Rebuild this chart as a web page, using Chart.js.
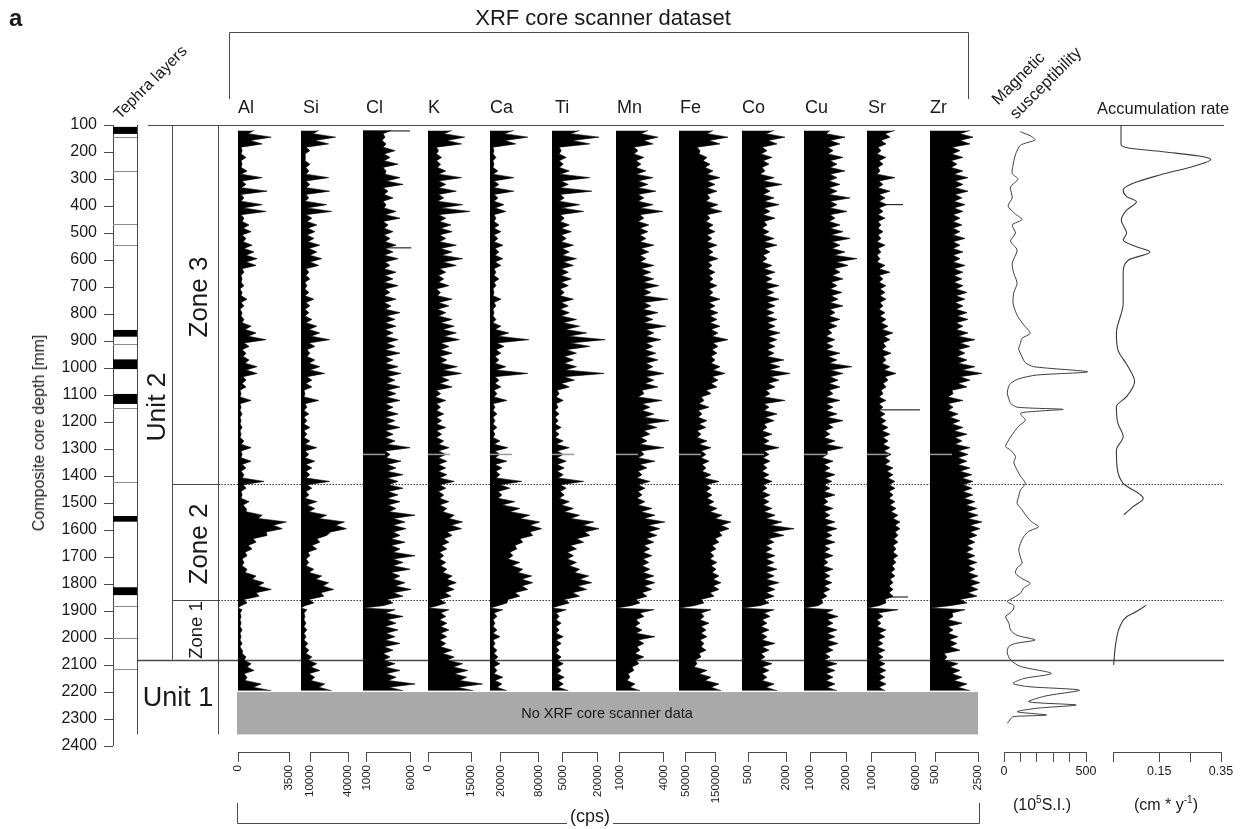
<!DOCTYPE html>
<html>
<head>
<meta charset="utf-8">
<title>XRF core scanner dataset</title>
<script src="https://cdn.jsdelivr.net/npm/chart.js@4.4.1/dist/chart.umd.min.js"></script>
<style>
  html, body { margin: 0; padding: 0; background: #fff; }
  #fig { position: relative; width: 1243px; height: 829px; overflow: hidden;
         font-family: "Liberation Sans", Arial, Helvetica, sans-serif; color: #1a1a1a; }
  #fig canvas { position: absolute; }
  .t { position: absolute; white-space: nowrap; line-height: 1; }
  .c { transform: translate(-50%, -50%); }
  .v { transform: translate(-50%, -50%) rotate(-90deg); }
  .d { transform-origin: 0 100%; transform: rotate(-45deg); }
</style>
</head>
<body>
<div id="fig">
  <canvas id="frame" width="1243" height="829" style="left:0;top:0"></canvas>

  <div class="t" style="left:9px;top:6px;font-size:24px;font-weight:bold">a</div>
  <div class="t c" style="left:603px;top:18px;font-size:22px">XRF core scanner dataset</div>
  <div class="t d" style="left:122px;top:106px;font-size:16px">Tephra layers</div>
  <div class="t d" style="left:1000px;top:91px;font-size:16.5px">Magnetic</div>
  <div class="t d" style="left:1018px;top:105px;font-size:16.5px">susceptibility</div>
  <div class="t" style="left:1097px;top:100px;font-size:16.5px">Accumulation rate</div>

  <div class="t v" style="left:39px;top:433px;font-size:16px">Composite core depth [mm]</div>
  <div class="t v" style="left:156px;top:407px;font-size:26.5px">Unit 2</div>
  <div class="t v" style="left:198px;top:297px;font-size:26px">Zone 3</div>
  <div class="t v" style="left:198px;top:544px;font-size:26px">Zone 2</div>
  <div class="t v" style="left:196px;top:630px;font-size:18.5px">Zone 1</div>
  <div class="t c" style="left:178px;top:697px;font-size:27px">Unit 1</div>

  <div class="t c" style="left:607px;top:713px;font-size:14.5px">No XRF core scanner data</div>
  <div class="t c" style="left:590px;top:816px;font-size:18px;background:#fff;padding:0 3px">(cps)</div>
  <div class="t c" style="left:1042px;top:804px;font-size:16px">(10<sup style="font-size:10px">5</sup>S.I.)</div>
  <div class="t c" style="left:1166px;top:804px;font-size:16px">(cm * y<sup style="font-size:10px">-1</sup>)</div>
</div>

<script>
// ---------------------------------------------------------------- data --
// composite depth of the XRF samples [mm]: local peaks ...
const DEPTH = [
  120,145,170,195,220,245,270,295,320,345,
  370,395,420,445,470,495,520,545,570,595,
  620,645,670,695,720,745,770,795,820,845,
  870,895,920,945,970,995,1020,1045,1070,1095,
  1120,1145,1170,1195,1220,1245,1270,1295,1320,1345,
  1370,1395,1420,1445,1470,1495,1520,1545,1570,1595,
  1620,1645,1670,1695,1720,1745,1770,1795,1820,1845,1870,
  1889,
  1895,1920,1945,1970,1995,2020,2045,2070,2095,2120,2145,2170,2195
];
// ... and the troughs between them
const DEPTH_MID = [
  132,157,182,207,232,257,282,307,332,357,
  382,407,432,457,482,507,532,557,582,607,
  632,657,682,707,732,757,782,807,832,857,
  882,907,932,957,982,1007,1032,1057,1082,1107,
  1132,1157,1182,1207,1232,1257,1282,1307,1332,1357,
  1382,1407,1432,1457,1482,1507,1532,1557,1582,1607,
  1632,1657,1682,1707,1732,1757,1782,1807,1832,1857,
  1880,
  1907,1932,1957,1982,2007,2032,2057,2082,2107,2132,2157,2182
];

const ELEMENTS = ['Al','Si','Cl','K','Ca','Ti','Mn','Fe','Co','Cu','Sr','Zr'];

// counts per second
const AL = [1100,2280,1660,280,550,280,620,1660,550,2000,
  410,1660,1930,410,760,900,550,970,1100,1310,
  1240,410,280,410,280,620,410,280,410,900,
  1240,1930,760,550,760,1310,1310,550,550,210,
  900,210,280,210,280,210,410,900,280,900,
  550,410,1790,550,280,760,550,1660,3310,3040,
  2000,1240,970,620,410,620,1240,1790,2280,1450,620,
  0,
  280,210,210,280,210,280,280,550,900,1100,620,1590,2280];
const AL_LOW = [690,830,210,210,210,210,210,280,210,210,
  210,350,210,280,350,280,350,410,550,550,
  280,210,210,140,210,210,140,210,280,480,
  690,410,280,350,480,550,350,280,140,140,
  140,140,140,140,140,140,210,210,210,280,
  210,280,350,210,210,350,550,1380,2420,1930,
  1040,690,480,280,280,480,970,1380,1240,410,
  210,
  140,140,140,140,140,140,280,410,620,410,480,1040];

const SI = [16790,30110,24620,9750,5830,9750,8960,24620,9750,25410,
  8960,23060,26970,11310,15230,13660,12880,17580,15230,19140,
  16790,8960,9750,7400,8960,12880,9750,8960,11310,15230,
  17580,25410,13660,9750,13660,17580,21490,11310,11310,5830,
  16790,7400,8960,7400,9750,7400,9750,15230,8960,13660,
  11310,9750,25410,11310,8960,15230,13660,23060,37150,38720,
  23060,17580,15230,9750,8960,12880,19140,24620,28540,20710,12880,
  2700,
  7400,5830,6620,7400,6620,8180,8960,11310,15230,17580,13660,21490,26970];
const SI_LOW = [12100,13660,6620,5830,5830,6620,6620,6620,6620,6620,
  5830,7400,6620,7400,8180,7400,8180,8960,9750,9750,
  6620,6620,5830,5830,5830,6620,5830,5830,6620,8960,
  10530,8960,7400,7400,8960,9750,7400,6620,5050,5050,
  5830,5050,5050,5050,5050,5050,5830,5830,5830,6620,
  6620,6620,7400,6620,5830,7400,8960,16790,30110,26190,
  15230,11310,8180,6620,6620,8960,14450,19930,18360,8960,
  5830,
  5050,5050,5050,5050,5050,5830,6620,8180,10530,8960,10530,16790];

const CL = [3760,3090,3200,4220,3650,4560,3200,4780,5120,3430,
  3990,3200,4330,4780,3430,3990,3650,4330,3990,4560,
  3650,4330,3990,4560,3650,4330,3760,4780,4220,4330,
  3990,4560,4220,4780,3990,4560,4890,4220,4780,4330,
  4780,3990,4560,4220,4780,3990,4220,5910,3650,4890,
  4330,5120,4560,5120,4560,4780,4330,6480,5350,5460,
  4780,5350,4780,6480,5120,5910,4780,5350,6020,5120,3990,
  600,
  4220,5120,4330,4560,4220,4780,3990,3650,4220,4780,4330,6480,5120];
const CL_LOW = [2860,2750,2860,2970,2970,2860,3090,3200,2860,2970,
  2860,2970,3090,2860,2970,2970,3090,3090,2970,3090,
  2970,3090,2970,3090,2970,2970,3090,3200,3090,3090,
  3090,3200,3090,3090,3090,3200,3310,3200,3310,3200,
  3090,3200,3090,3200,3090,3090,3310,3090,3200,3310,
  3310,3310,3430,3430,3310,3430,3540,3990,3990,3990,
  3760,3760,3990,3990,3990,3760,3990,4220,3990,3310,
  2860,
  3090,3310,3090,3200,3090,2970,2860,2860,3090,3200,3430,3540];

const K = [8420,12810,11710,3660,4760,4390,6220,11710,6220,9880,
  5490,12080,14640,6220,8050,8420,6220,9880,8420,12080,
  9880,6220,5490,7320,4390,8420,7320,6220,8420,9150,
  9880,10980,7320,8420,6590,10250,11710,7320,8420,4390,
  6220,4390,5490,4760,6220,4760,5490,7320,6220,6590,
  6220,6590,9150,6220,5490,7320,6590,9150,12080,11710,
  8420,7320,6590,5490,6220,6590,8420,9880,9150,8050,6220,
  0,
  7320,6220,6590,7320,6590,6220,8420,9150,12080,13910,13540,19030,15740];
const K_LOW = [5490,6590,2930,2930,2930,3290,3660,3660,3660,3660,
  3290,4390,3660,4030,4390,4030,4030,4390,4760,5120,
  4030,3660,3660,2930,3290,3660,3290,3660,4390,5120,
  5490,4390,4390,4030,4390,5120,4390,4030,2930,2560,
  2930,2930,2930,2930,2930,2930,3660,3660,3660,3660,
  3660,4030,4030,3660,4030,4030,5120,7320,8050,6590,
  5490,4760,4030,4030,4390,5120,6590,6590,5860,4030,
  3290,
  4390,4030,4390,4390,4030,4390,5120,6590,8780,9150,10980,10250];

const CA = [40410,62350,43540,9070,12200,9070,15340,40410,16900,40410,
  15340,24740,27870,12200,16900,20040,15340,23170,16900,23170,
  20040,12200,16900,12200,9070,20040,12200,9070,12200,20040,
  32570,63910,24740,20040,16900,27870,62350,16900,20040,13770,
  29440,10640,13770,10640,13770,10640,18470,31010,18470,29440,
  21600,18470,52940,34140,21600,41980,49810,65480,81150,84280,
  70180,54510,45110,38840,49810,54510,68610,70180,62350,49810,29440,
  2800,
  23170,13770,10640,13770,18470,10640,13770,15340,18470,13770,23170,21600,29440];
const CA_LOW = [24740,26310,7500,7500,7500,7500,7500,9070,9070,9070,
  9070,10640,9070,9070,9070,9070,9070,10640,10640,10640,
  9070,9070,9070,7500,7500,9070,7500,7500,7500,10640,
  15340,13770,12200,10640,10640,12200,10640,10640,9070,9070,
  7500,7500,7500,7500,7500,7500,9070,10640,10640,10640,
  12200,12200,18470,15340,15340,21600,34140,49810,65480,65480,
  49810,41980,34140,31010,37270,46680,52940,52940,41980,31010,
  15340,
  9070,7500,7500,7500,7500,7500,9070,9070,9070,9070,10640,13770];

const TI = [12170,20460,16530,4320,6500,5200,7810,16530,7380,17400,
  5630,12170,13920,5630,7810,8680,6500,9560,7810,10860,
  9560,7380,8680,7380,5630,9560,7380,7810,10860,12170,
  15220,23070,16530,10860,9560,10860,22640,9990,7810,3450,
  5200,3020,3450,3020,4320,3450,5200,7810,5200,6500,
  5630,5200,13920,6500,5630,7810,9560,12170,18280,20460,
  16530,13920,10860,9560,10860,12170,16100,17400,15220,12170,7810,
  400,
  6500,3450,4320,3450,5200,4320,3450,4320,5200,4320,5630,5200,7380];
const TI_LOW = [8250,9120,3450,3450,3450,3450,3890,4320,3890,3890,
  3450,4320,3890,3890,4320,4320,4320,4760,4760,5200,
  4320,4320,4320,3890,3890,4320,3890,4320,5200,6070,
  7380,8250,6500,5630,5630,6070,5630,4320,2580,2140,
  2140,1710,1710,1710,1710,1710,2140,2580,2580,2580,
  2580,3020,3890,3890,3450,4320,5630,8250,13480,14350,
  10860,8250,6940,6940,7810,9990,12170,11300,9120,5630,
  3450,
  2140,2140,2140,2140,2140,2140,2140,2580,2580,2580,3020,3020];

const MN = [2910,3590,3250,2230,2630,2430,2770,3250,2910,3450,
  2630,3250,3930,2630,2970,2910,2770,3310,2970,2770,
  3310,3110,3310,3650,3110,4270,3110,3590,3250,4130,
  3310,3790,3250,3450,3590,3250,3990,3310,3590,2630,
  3860,3040,3310,4330,3520,3040,2840,3990,2630,3380,
  2840,2500,3040,2700,2500,2700,3180,3380,4060,3720,
  3520,3310,3040,3180,2970,3040,3310,3380,3180,2840,2360,
  730,
  3310,2630,2360,2500,3380,2630,2360,2630,2290,1950,1680,2020,2360];
const MN_LOW = [2430,2630,1950,1950,2090,2090,2090,2230,2230,2230,
  2230,2360,2360,2230,2360,2360,2360,2430,2360,2360,
  2430,2500,2570,2630,2570,2630,2570,2630,2630,2770,
  2770,2770,2700,2770,2770,2770,2770,2700,2500,2230,
  2500,2500,2630,2770,2630,2430,2360,2430,2230,2360,
  2230,2160,2230,2230,2160,2230,2430,2630,2910,2910,
  2770,2630,2570,2570,2500,2570,2630,2630,2500,2090,
  1750,
  2360,2090,2020,2090,2230,2160,2020,2090,1820,1550,1480,1680];

const FE = [140020,190020,163350,96690,120020,130020,140020,163350,146690,153350,
  130020,156690,170020,130020,140020,146690,136690,153350,140020,156690,
  136690,146690,140020,153350,140020,163350,146690,156690,153350,163350,
  156690,190020,156690,153350,146690,163350,180020,156690,153350,133360,
  110030,126690,103360,120020,116690,100030,120020,133360,116690,126690,
  116690,133360,160020,133360,136690,143360,153350,170020,200020,193350,
  170020,160020,150020,143360,153350,150020,160020,166690,160020,143360,110030,
  26700,
  133360,110030,126690,116690,120020,110030,116690,100030,86690,120020,133360,160020,166690];
const FE_LOW = [120020,126690,86690,93360,106690,113360,120020,120020,120020,120020,
  116690,126690,120020,116690,123360,120020,120020,123360,123360,123360,
  123360,126690,126690,126690,126690,126690,126690,130020,130020,133360,
  136690,140020,136690,133360,133360,140020,136690,133360,116690,100030,
  93360,90030,90030,93360,86690,86690,93360,100030,100030,103360,
  103360,110030,116690,116690,120020,123360,130020,146690,166690,160020,
  146690,136690,130020,130020,133360,136690,140020,140020,130020,100030,
  76700,
  100030,96690,100030,100030,96690,100030,93360,80030,76700,93360,113360,133360];

const CO = [1530,1960,1645,1250,1450,1330,1170,1530,1843,1370,
  1530,1725,1370,1570,1250,1330,1530,1645,1370,1250,
  1450,1570,1450,1725,1530,1725,1570,1530,1645,1570,
  1765,1645,1570,1530,1920,1765,2160,1725,1570,1370,
  1960,1330,1645,1530,1250,1450,1330,1725,1330,1370,
  1250,1330,1450,1250,1370,1330,1450,1570,1843,2320,
  1920,1530,1450,1570,1530,1645,1530,1725,1570,1530,1330,
  263,
  1530,1370,1250,1330,1250,1570,1330,1170,1450,1330,1250,1530,1645];
const CO_LOW = [1211,1290,1053,1014,1093,1053,974,1093,1132,1093,
  1132,1132,1093,1132,1053,1093,1132,1132,1093,1053,
  1132,1172,1172,1211,1211,1251,1211,1211,1251,1251,
  1290,1290,1251,1251,1330,1330,1369,1290,1211,1132,
  1132,1132,1172,1132,1053,1093,1093,1132,1093,1093,
  1053,1093,1093,1053,1093,1093,1132,1211,1369,1448,
  1290,1211,1172,1211,1211,1211,1211,1251,1211,1132,
  974,
  1132,1053,1014,1014,1053,1053,1014,974,1053,1053,1053,1211];

const CU = [1556,1973,1834,1640,1917,1750,1973,1750,1834,1750,
  2112,1750,2028,1695,1834,1917,2112,1834,1973,2306,
  2056,1834,1917,1750,1890,1780,1917,1695,1834,1750,
  1610,1695,1640,1834,1750,2167,1917,1780,1834,1640,
  1834,1640,1750,1917,1640,1556,1695,1917,1470,1640,
  1556,1695,1610,1556,1695,1500,1640,1556,1695,1750,
  1610,1695,1556,1640,1500,1640,1556,1610,1556,1470,1360,
  833,
  1640,1780,1640,1750,1695,1780,1640,1556,1750,1695,1640,1695,1750];
const CU_LOW = [1445,1556,1500,1500,1556,1556,1556,1528,1528,1528,
  1556,1556,1556,1528,1556,1584,1611,1611,1667,1723,
  1667,1611,1584,1556,1584,1556,1556,1528,1528,1500,
  1445,1445,1445,1500,1528,1556,1556,1528,1528,1445,
  1445,1445,1472,1500,1417,1389,1445,1472,1333,1389,
  1389,1417,1389,1389,1389,1361,1389,1389,1417,1445,
  1417,1389,1389,1389,1361,1389,1389,1389,1361,1306,
  1222,
  1445,1472,1445,1472,1472,1472,1417,1389,1445,1445,1445,1472];

const SR = [3610,3045,2590,2020,2590,2250,1910,3610,2250,3045,
  2480,2700,2250,2480,2020,2250,2020,2480,2020,1910,
  2480,3045,2250,2590,2480,2590,2250,2480,2590,2820,
  3390,3045,2590,3160,2590,3045,3730,2820,2590,2250,
  2590,2250,2480,2590,2820,3045,2820,3045,3160,3045,
  3390,3390,3610,3610,3390,3610,3730,3950,4180,4180,
  3950,3950,3730,3950,3730,3610,3610,3390,3390,3390,2590,
  432,
  3950,2250,2020,2590,2480,2250,2480,2250,2480,2590,2480,2590,2480];
const SR_LOW = [2477,2022,1682,1568,1795,1682,1568,1795,1682,1795,
  1795,1795,1682,1682,1682,1682,1568,1682,1568,1568,
  1795,1795,1795,1909,1909,1909,1795,1909,2022,2136,
  2363,2250,2136,2250,2136,2363,2477,2250,2022,1795,
  1795,1795,1909,2022,2136,2250,2250,2363,2477,2477,
  2704,2818,2931,2931,2931,3045,3158,3386,3613,3613,
  3499,3386,3386,3386,3272,3158,3045,2931,2931,2477,
  1795,
  1682,1568,1568,1795,1682,1568,1682,1682,1795,1795,1795,1795];

const ZR = [2127,2267,2127,1662,1800,1520,1800,2035,1800,2035,
  1755,1895,1800,1662,1755,1662,1895,1662,1800,1662,
  1895,1800,1755,1800,1990,1895,1800,1990,2035,1800,
  2035,2360,2127,1895,1990,2360,2685,2127,1990,1340,
  1800,1340,1570,1662,1800,1990,1755,2127,2035,1990,
  2127,2220,2267,2220,2267,2360,2453,2500,2685,2592,
  2453,2360,2267,2360,2453,2360,2500,2592,2500,2453,1990,
  267,
  1895,1340,1755,1340,1570,1520,1662,1060,1570,1662,1755,1990,2127];
const ZR_LOW = [1662,1662,1290,1290,1244,1244,1383,1430,1430,1430,
  1383,1383,1337,1337,1337,1337,1337,1337,1337,1337,
  1383,1383,1383,1476,1476,1430,1476,1523,1476,1476,
  1569,1662,1569,1523,1569,1755,1662,1569,1290,1104,
  1104,1104,1197,1290,1383,1430,1430,1569,1569,1569,
  1662,1755,1802,1802,1848,1941,1988,2034,2127,2127,
  2034,1988,1941,1988,2034,2034,2127,2127,2034,1662,
  1197,
  1290,1104,1104,1104,1151,1197,918,918,1197,1290,1383,1569];

const XRF = [AL, SI, CL, K, CA, TI, MN, FE, CO, CU, SR, ZR];
const XRF_LOW = [AL_LOW, SI_LOW, CL_LOW, K_LOW, CA_LOW, TI_LOW, MN_LOW, FE_LOW, CO_LOW, CU_LOW, SR_LOW, ZR_LOW];
// lowest count of each record (left edge of the filled profile)
const XRF_BASE = [0, 2700, 600, 0, 2800, 400, 730, 26700, 263, 833, 432, 267];
// values printed under each panel
const XRF_TICKS = [[0,3500],[10000,40000],[1000,6000],[0,15000],[20000,80000],[5000,20000],
                   [1000,4000],[50000,150000],[500,2000],[1000,2000],[1000,6000],[500,2500]];
// single-sample hairline peaks [depth, cps]
const CL_SPIKES = [[122, 5900], [555, 6050]];
const SR_SPIKES = [[395, 4520], [1155, 6450], [1848, 5090]];

// magnetic susceptibility (10^-5 SI)
const MS_DEPTH = [125,140,155,175,210,250,280,300,330,370,400,430,450,470,500,530,563,612,650,686,
  720,760,790,810,840,871,890,909,930,958,980,995,1014,1026,1040,1057,1075,1094,1115,1131,
  1145,1153,1160,1168,1193,1215,1242,1265,1291,1304,1328,1350,1378,1400,1427,1452,1475,1501,1525,1551,
  1570,1588,1605,1625,1650,1674,1700,1723,1740,1760,1780,1797,1815,1834,1850,1865,1880,1896,1910,1921,
  1945,1970,1990,2007,2020,2032,2055,2081,2105,2131,2150,2168,2180,2193,2215,2236,2248,2260,2273,2285,
  2291,2300,2316];
const MS_VALUE = [100,160,190,100,70,55,50,85,40,50,25,70,110,50,70,40,80,50,60,80,
  60,55,70,85,120,160,110,100,90,110,130,180,510,200,90,40,25,20,30,40,
  80,360,200,100,130,90,55,30,10,40,70,60,80,100,130,100,90,80,110,140,
  170,210,150,120,100,90,100,110,80,70,110,160,120,100,60,20,60,55,30,10,
  30,40,80,190,70,28,20,40,100,290,120,55,150,460,250,150,440,200,80,260,
  55,40,20];
const MS_TICKS = [0, 100, 200, 300, 400, 500];
const MS_LABELS = [0, 500];

// accumulation rate (cm / y), no value between the two modelled sections
const ACC_DEPTH = [100,170,185,200,215,228,250,285,316,341,365,384,415,452,501,526,551,570,600,649,
  760,871,933,995,1050,1106,1143,1205,1254,1304,1366,1427,1483,1513,1544,
  1700,
  1878,1902,1921,1958,2020,2100];
const ACC_VALUE = [0.026,0.026,0.05,0.17,0.28,0.317,0.27,0.152,0.065,0.033,0.044,0.076,0.044,0.027,0.044,0.033,0.076,0.12,0.05,0.033,
  0.033,0.011,0.016,0.049,0.07,0.044,0.011,0.016,0.033,0.011,0.013,0.033,0.098,0.065,0.035,
  null,
  0.108,0.076,0.044,0.022,0.009,0.002];
const ACC_TICKS = [0, 0.15, 0.25, 0.35];
const ACC_LABELS = [0.15, 0.35];

const DEPTH_TICKS = [100,200,300,400,500,600,700,800,900,1000,1100,1200,
                     1300,1400,1500,1600,1700,1800,1900,2000,2100,2200,2300,2400];
// tephra layers [top, bottom] mm, and thin ones
const TEPHRA_BANDS = [[107,133],[859,884],[968,1004],[1096,1133],[1548,1569],[1812,1841]];
const TEPHRA_THIN = [143,270,467,546,912,1147,1423,1881,2001,2116];
const ZONE_LIMITS = [1430, 1860];
const UNIT_LIMIT = 2080;
const CORE_BREAK = 1320;
const NO_DATA = [2200, 2357];

// -------------------------------------------------------------- layout --
const TOP_Y = 125, BOTTOM_Y = 752, PAGE_H = 829;
const Y_MIN = 100, Y_MAX = 2422;
const AXIS_H = PAGE_H - BOTTOM_Y;
const PAD_L = 10, PAD_R = 4, EXTRA = 18;
const BRACKET_X = [[238,289],[310,348],[367,411],[428,471],[501,539],[563,598],
                   [620,664],[686,716],[748,786],[810,846],[872,916],[935,978]];
const LABEL_X = [238,303,366,428,490,555,617,680,742,805,868,930];
const MS_X = [1004, 1086];
const ACC_X = [1113, 1221];
const LINE = '#4a4a4a';
const FONT = '"Liberation Sans", Arial, Helvetica, sans-serif';

Chart.defaults.font.family = FONT;
Chart.defaults.color = '#1a1a1a';

const fig = document.getElementById('fig');

ELEMENTS.forEach((el, i) => {
  const d = document.createElement('div');
  d.className = 't';
  d.style.cssText = `left:${LABEL_X[i]}px;top:98px;font-size:18px`;
  d.textContent = el;
  fig.appendChild(d);
});

function addCanvas(x, y, w, h) {
  const c = document.createElement('canvas');
  c.width = Math.round(w);
  c.height = Math.round(h);
  c.style.left = Math.round(x) + 'px';
  c.style.top = Math.round(y) + 'px';
  fig.appendChild(c);
  return c;
}

function seg(ctx, x1, y1, x2, y2) {
  ctx.beginPath();
  ctx.moveTo(x1, y1);
  ctx.lineTo(x2, y2);
  ctx.stroke();
}

// peaks and troughs merged into one depth-ordered profile
function profile(peaks, lows) {
  return DEPTH.map((d, k) => ({ x: peaks[k], y: d }))
    .concat(DEPTH_MID.map((d, k) => ({ x: lows[k], y: d })))
    .sort((a, b) => a.y - b.y);
}

// horizontal line joining the end ticks of a strip axis
const bracketPlugin = {
  id: 'bracket',
  afterDraw(chart) {
    const xs = chart.scales.x, ctx = chart.ctx;
    const px = xs.ticks.map(t => xs.getPixelForValue(t.value));
    const y = Math.round(chart.chartArea.bottom) + 0.5;
    ctx.save();
    ctx.strokeStyle = LINE;
    ctx.lineWidth = 1;
    seg(ctx, Math.min(...px), y, Math.max(...px), y);
    ctx.restore();
  }
};

// light grey mark of the core-section break
const breakPlugin = {
  id: 'coreBreak',
  afterDatasetsDraw(chart, args, opts) {
    if (!opts.on) return;
    const ctx = chart.ctx, y = chart.scales.y.getPixelForValue(CORE_BREAK);
    const x0 = chart.chartArea.left;
    ctx.save();
    ctx.strokeStyle = '#9a9a9a';
    ctx.lineWidth = 1.5;
    seg(ctx, x0, y, x0 + 22, y);
    ctx.restore();
  }
};

function strip(cfg) {
  const upp = (cfg.t1 - cfg.t0) / (cfg.b1 - cfg.b0);
  const left = cfg.b0 - (cfg.t0 - cfg.base) / upp;
  const right = cfg.b1 + EXTRA;
  const canvas = addCanvas(left - PAD_L, TOP_Y, right - left + PAD_L + PAD_R, PAGE_H - TOP_Y);
  return new Chart(canvas, {
    type: 'line',
    data: { datasets: cfg.datasets },
    options: {
      indexAxis: 'y',
      responsive: false,
      animation: false,
      devicePixelRatio: 1,
      events: [],
      layout: { padding: { left: PAD_L, right: PAD_R, top: 0, bottom: 0 } },
      elements: { point: { radius: 0 } },
      plugins: { legend: { display: false }, tooltip: { enabled: false },
                 coreBreak: { on: !!cfg.coreBreak } },
      scales: {
        y: { type: 'linear', min: Y_MIN, max: Y_MAX, reverse: true, display: false },
        x: {
          type: 'linear', position: 'bottom',
          min: cfg.base, max: cfg.t1 + EXTRA * upp,
          afterBuildTicks: s => { s.ticks = cfg.ticks.map(v => ({ value: v })); },
          afterFit: s => { s.height = AXIS_H; s.paddingLeft = 0; s.paddingRight = 0; },
          border: { display: false },
          grid: { drawOnChartArea: false, drawTicks: true, tickLength: 10, color: LINE, lineWidth: 1 },
          ticks: {
            autoSkip: false,
            minRotation: cfg.rotate ? 90 : 0,
            maxRotation: cfg.rotate ? 90 : 0,
            padding: cfg.rotate ? 3 : 2,
            font: { size: cfg.fontSize },
            color: '#1a1a1a',
            callback: v => (cfg.labels && !cfg.labels.includes(v)) ? '' : String(v)
          }
        }
      }
    },
    plugins: [bracketPlugin, breakPlugin]
  });
}

// ---------------------------------------------------- frame + depth axis --
const framePlugin = {
  id: 'framework',
  afterDraw(chart) {
    const ctx = chart.ctx;
    const Y = v => chart.scales.y.getPixelForValue(v);
    const axisX = Math.round(chart.chartArea.left) + 0.5;
    const END_X = 1224;
    ctx.save();
    ctx.strokeStyle = LINE;
    ctx.lineWidth = 1;

    // depth axis line
    seg(ctx, axisX, Y(100), axisX, Y(2400));

    // tephra column
    ctx.fillStyle = '#000';
    TEPHRA_BANDS.forEach(([a, b]) => ctx.fillRect(113, Y(a), 24, Y(b) - Y(a)));
    ctx.strokeStyle = '#8c8c8c';
    TEPHRA_THIN.forEach(d => seg(ctx, 113, Math.round(Y(d)) + 0.5, 137, Math.round(Y(d)) + 0.5));
    ctx.strokeStyle = LINE;
    seg(ctx, 137.5, Y(100), 137.5, Y(NO_DATA[1]));

    // unit / zone columns
    seg(ctx, 172.5, Y(100), 172.5, Y(UNIT_LIMIT));
    seg(ctx, 218.5, Y(100), 218.5, Y(NO_DATA[1]));
    seg(ctx, 148, Math.round(Y(100)) + 0.5, END_X, Math.round(Y(100)) + 0.5);

    ZONE_LIMITS.forEach(d => {
      const y = Math.round(Y(d)) + 0.5;
      seg(ctx, 172.5, y, 218.5, y);
      ctx.save();
      ctx.setLineDash([1.5, 1.5]);
      ctx.strokeStyle = '#333';
      seg(ctx, 218.5, y, END_X, y);
      ctx.restore();
    });
    const yu = Math.round(Y(UNIT_LIMIT)) + 0.5;
    ctx.lineWidth = 1.3;
    seg(ctx, 137.5, yu, END_X, yu);
    ctx.lineWidth = 1;

    // no XRF data box
    ctx.fillStyle = '#a9a9a9';
    ctx.fillRect(237, Y(NO_DATA[0]), 978 - 237, Y(NO_DATA[1]) - Y(NO_DATA[0]));

    // header bracket and (cps) bracket
    seg(ctx, 229.5, 99, 229.5, 32.5);
    seg(ctx, 229.5, 32.5, 968.5, 32.5);
    seg(ctx, 968.5, 32.5, 968.5, 99);
    seg(ctx, 237.5, 803, 237.5, 823.5);
    seg(ctx, 237.5, 823.5, 979.5, 823.5);
    seg(ctx, 979.5, 823.5, 979.5, 803);
    ctx.restore();
  }
};

new Chart(document.getElementById('frame'), {
  type: 'scatter',
  data: { datasets: [] },
  options: {
    responsive: false,
    animation: false,
    devicePixelRatio: 1,
    events: [],
    layout: { padding: { top: TOP_Y, bottom: PAGE_H - BOTTOM_Y, left: 0, right: 0 } },
    plugins: { legend: { display: false }, tooltip: { enabled: false } },
    scales: {
      x: { type: 'linear', display: false, min: 0, max: 1 },
      y: {
        type: 'linear', position: 'left', reverse: true, min: Y_MIN, max: Y_MAX,
        afterBuildTicks: s => { s.ticks = DEPTH_TICKS.map(v => ({ value: v })); },
        afterFit: s => { s.width = 113; },
        border: { display: false },
        grid: { drawOnChartArea: false, tickLength: 9, color: LINE },
        ticks: { autoSkip: false, padding: 7, font: { size: 16 }, color: '#1a1a1a',
                 callback: v => String(v) }
      }
    }
  },
  plugins: [framePlugin]
});

// ------------------------------------------------------------ XRF panels --
XRF.forEach((values, i) => {
  const [t0, t1] = XRF_TICKS[i];
  const [b0, b1] = BRACKET_X[i];
  const datasets = [{
    data: profile(values, XRF_LOW[i]),
    borderColor: '#000',
    backgroundColor: '#000',
    borderWidth: 0.6,
    tension: 0,
    fill: { value: XRF_BASE[i] },
    clip: false
  }];
  const spikes = ELEMENTS[i] === 'Cl' ? CL_SPIKES : ELEMENTS[i] === 'Sr' ? SR_SPIKES : [];
  spikes.forEach(([d, v]) => datasets.push({
    data: [{ x: XRF_BASE[i], y: d }, { x: v, y: d }],
    borderColor: '#000', borderWidth: 1, fill: false, clip: false
  }));
  strip({ t0, t1, b0, b1, base: XRF_BASE[i], ticks: [t0, t1], rotate: true,
          fontSize: 11.5, datasets, coreBreak: i >= 2 });
});

// --------------------------------------------- magnetic susceptibility --
strip({
  t0: MS_TICKS[0], t1: MS_TICKS[MS_TICKS.length - 1], b0: MS_X[0], b1: MS_X[1], base: 0,
  ticks: MS_TICKS, labels: MS_LABELS, rotate: false, fontSize: 12.5,
  datasets: [{
    data: MS_DEPTH.map((d, k) => ({ x: MS_VALUE[k], y: d })),
    borderColor: '#3c3c3c', borderWidth: 1, tension: 0.25, fill: false, clip: false
  }]
});

// ---------------------------------------------------- accumulation rate --
strip({
  t0: ACC_TICKS[0], t1: ACC_TICKS[ACC_TICKS.length - 1], b0: ACC_X[0], b1: ACC_X[1], base: 0,
  ticks: ACC_TICKS, labels: ACC_LABELS, rotate: false, fontSize: 12.5,
  datasets: [{
    data: ACC_DEPTH.map((d, k) => ({ x: ACC_VALUE[k], y: d })),
    borderColor: '#3c3c3c', borderWidth: 1.1, cubicInterpolationMode: 'monotone',
    spanGaps: false, fill: false, clip: false
  }]
});
</script>
</body>
</html>
